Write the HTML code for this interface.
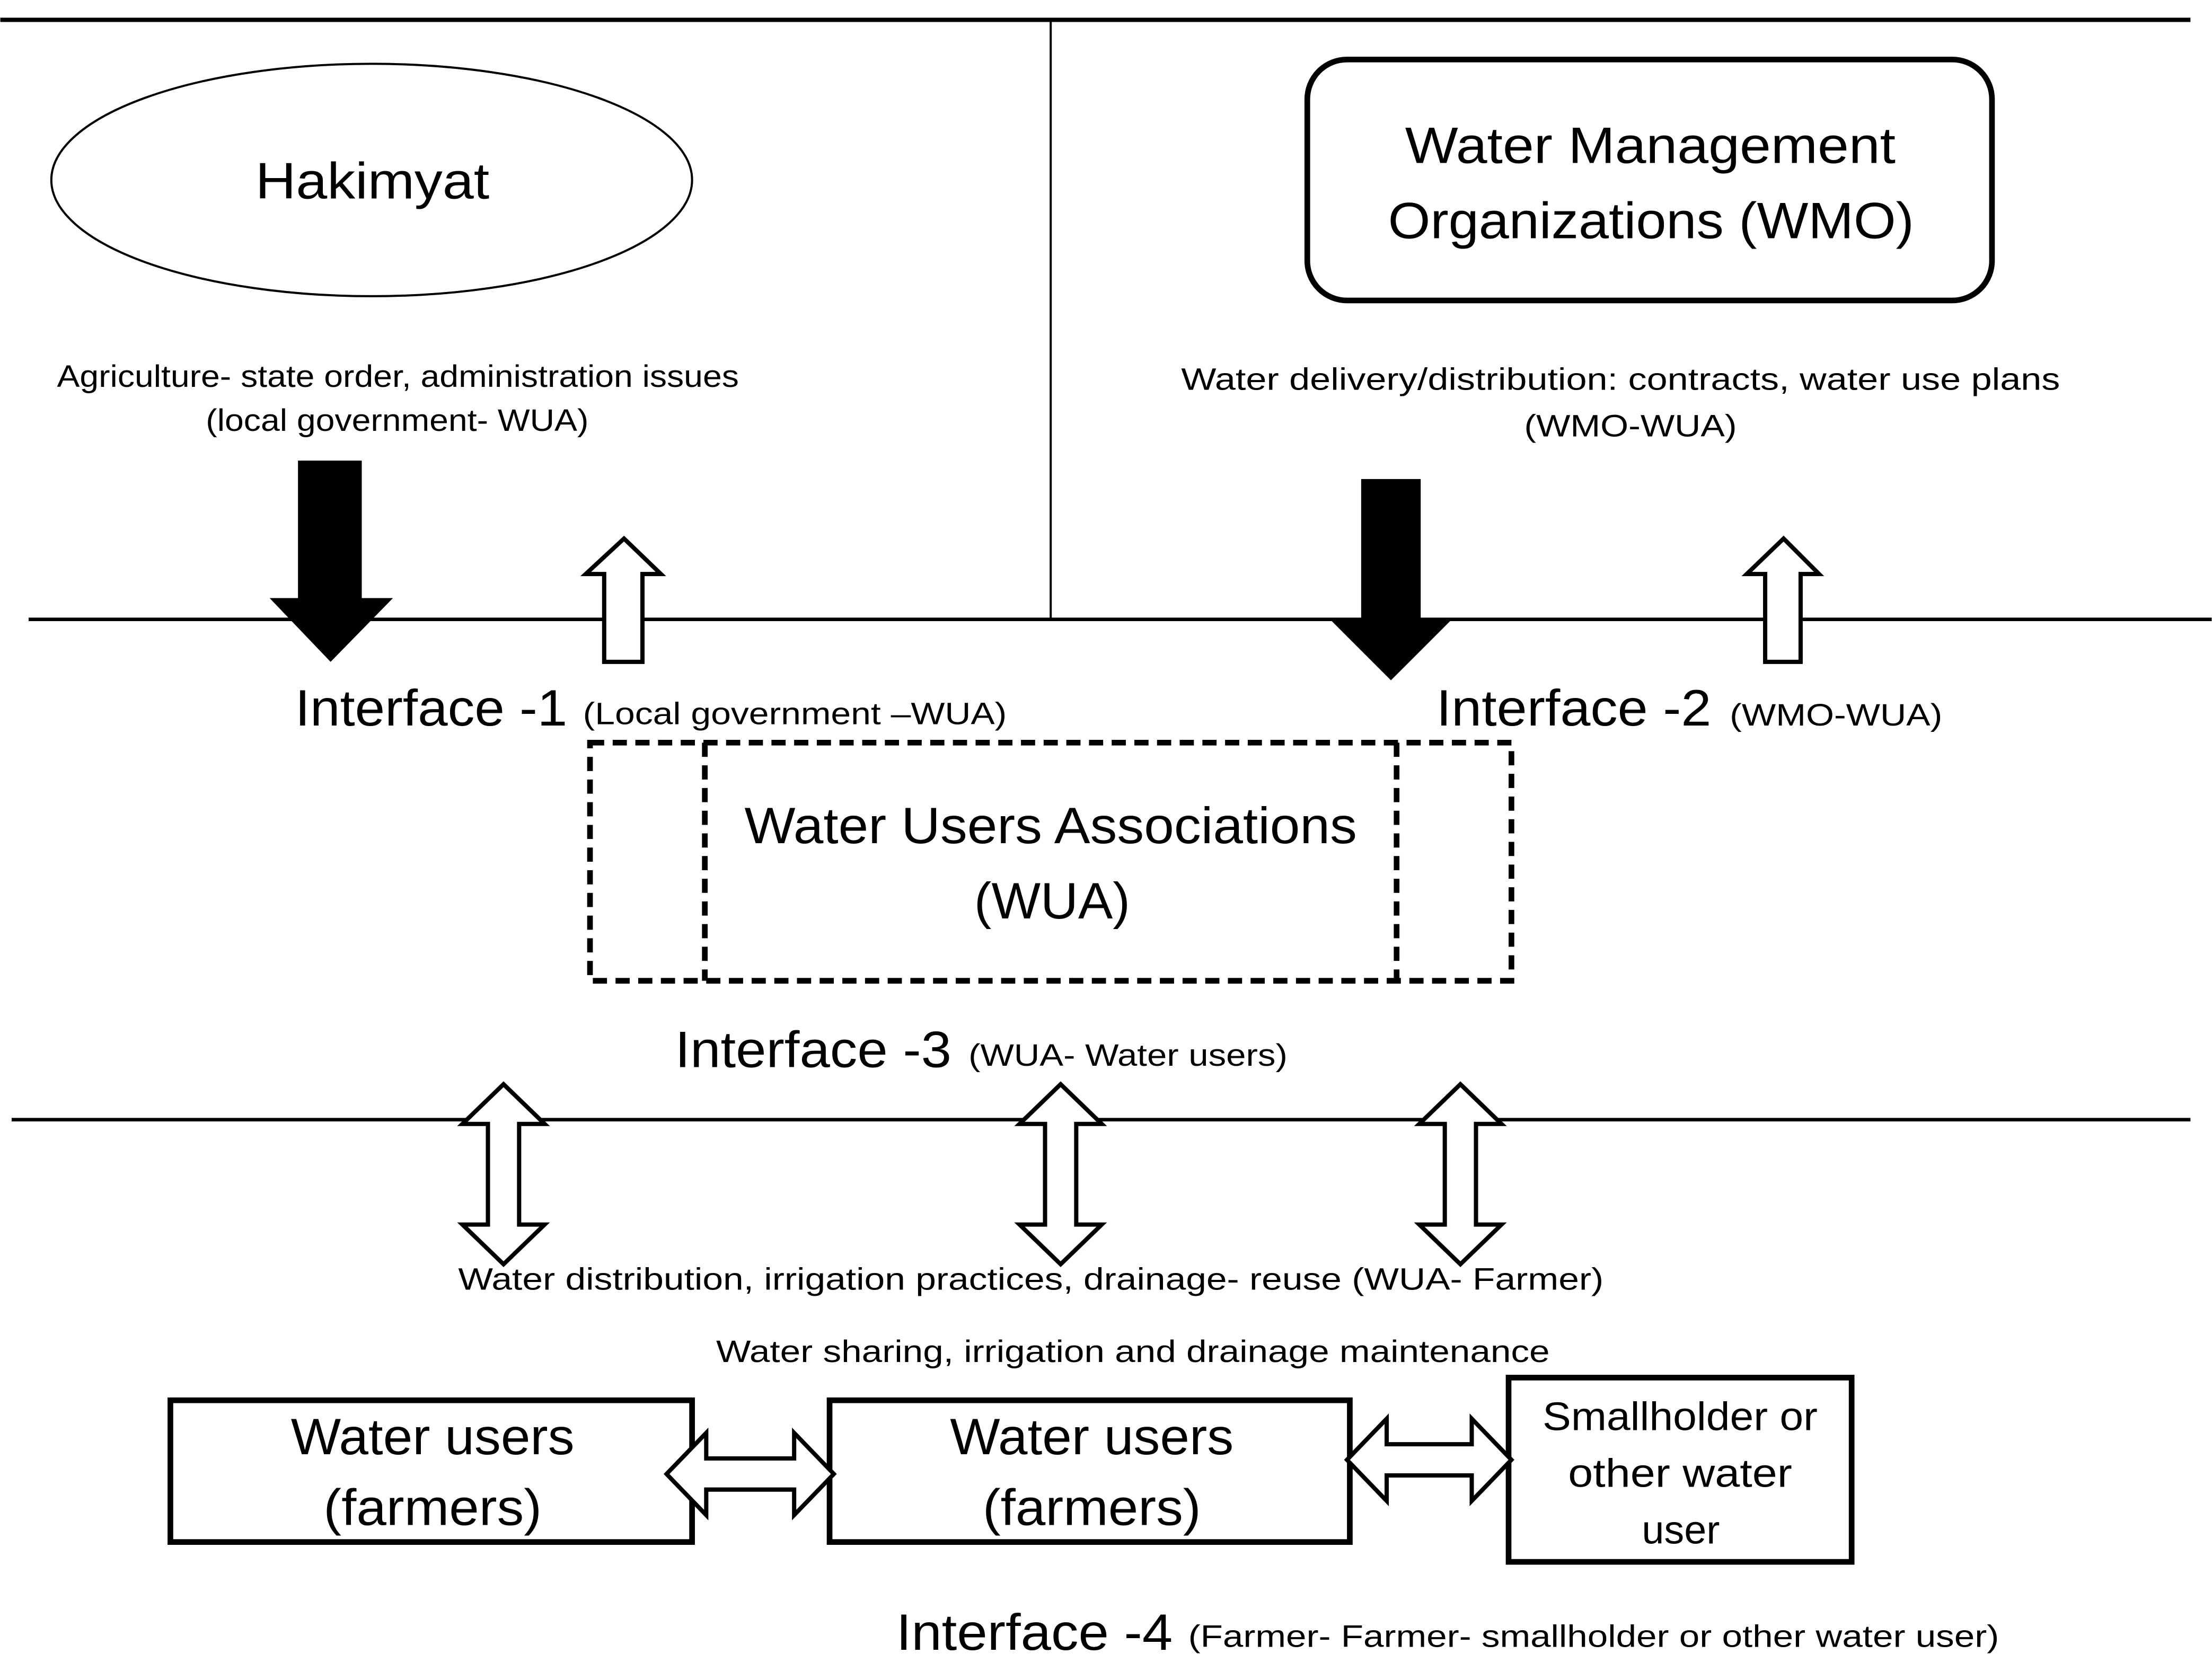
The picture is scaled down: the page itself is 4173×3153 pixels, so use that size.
<!DOCTYPE html>
<html><head><meta charset="utf-8"><style>
html,body{margin:0;padding:0;background:#fff;}
svg{display:block;}
text{font-family:"Liberation Sans",sans-serif;fill:#000;}
</style></head><body>
<svg width="4173" height="3153" viewBox="0 0 1560 1179" xmlns="http://www.w3.org/2000/svg">
<g stroke="#000" fill="none">
<line x1="0" y1="14" x2="1545" y2="14" stroke-width="3"/>
<line x1="741" y1="14" x2="741" y2="437" stroke-width="1.5"/>
<line x1="20" y1="437" x2="1560" y2="437" stroke-width="2.5"/>
<line x1="8" y1="790" x2="1545" y2="790" stroke-width="2.5"/>
<ellipse cx="262" cy="127" rx="226" ry="82" stroke-width="1.5"/>
<rect x="922" y="42" width="483" height="170" rx="28" stroke-width="4"/>
<rect x="416" y="524" width="650" height="168" stroke-width="4" stroke-dasharray="10,6"/>
<line x1="497" y1="524" x2="497" y2="692" stroke-width="4" stroke-dasharray="10,6"/>
<line x1="985" y1="524" x2="985" y2="692" stroke-width="4" stroke-dasharray="10,6"/>
<rect x="120" y="988" width="368" height="100" stroke-width="4"/>
<rect x="585" y="988" width="367" height="100" stroke-width="4"/>
<rect x="1064" y="972" width="242" height="130" stroke-width="4"/>
</g>
<!-- black arrows -->
<polygon points="210,325 255,325 255,422 277,422 233,467 190,422 210,422" fill="#000"/>
<polygon points="960,338 1002,338 1002,437 1024,437 981,480 938,437 960,437" fill="#000"/>
<!-- hollow up arrows -->
<g fill="#fff" stroke="#000" stroke-width="3">
<polygon points="426,467 453,467 453,405 466,405 440,380 413,405 426,405"/>
<polygon points="1245,467 1270,467 1270,405 1283,405 1258,380 1232,405 1245,405"/>
<!-- vertical double arrows -->
<polygon points="344,793 344,864 326,864 355,892 384,864 366,864 366,793 384,793 355,765 326,793"/>
<polygon points="737,793 737,864 719,864 748,892 777,864 759,864 759,793 777,793 748,765 719,793"/>
<polygon points="1019,793 1019,864 1001,864 1030,892 1059,864 1041,864 1041,793 1059,793 1030,765 1001,793"/>
<!-- horizontal double arrows -->
<polygon points="498,1029 560,1029 560,1011 588,1040 560,1069 560,1051 498,1051 498,1069 470,1040 498,1011"/>
<polygon points="978,1019 1038,1019 1038,1001 1066,1030 1038,1059 1038,1041 978,1041 978,1059 950,1030 978,1001"/>
</g>
<g font-size="36">
<text x="180" y="140" textLength="165" lengthAdjust="spacingAndGlyphs">Hakimyat</text>
<text x="991" y="115" textLength="346" lengthAdjust="spacingAndGlyphs">Water Management</text>
<text x="979" y="168" textLength="371" lengthAdjust="spacingAndGlyphs">Organizations (WMO)</text>
<text x="208" y="512" textLength="192" lengthAdjust="spacingAndGlyphs">Interface -1</text>
<text x="1013" y="512" textLength="194" lengthAdjust="spacingAndGlyphs">Interface -2</text>
<text x="525" y="595" textLength="432" lengthAdjust="spacingAndGlyphs">Water Users Associations</text>
<text x="687" y="648" textLength="110" lengthAdjust="spacingAndGlyphs">(WUA)</text>
<text x="476" y="753" textLength="195" lengthAdjust="spacingAndGlyphs">Interface -3</text>
<text x="205" y="1026" textLength="200" lengthAdjust="spacingAndGlyphs">Water users</text>
<text x="228" y="1076" textLength="154" lengthAdjust="spacingAndGlyphs">(farmers)</text>
<text x="670" y="1026" textLength="200" lengthAdjust="spacingAndGlyphs">Water users</text>
<text x="693" y="1076" textLength="154" lengthAdjust="spacingAndGlyphs">(farmers)</text>
<text x="632" y="1164" textLength="195" lengthAdjust="spacingAndGlyphs">Interface -4</text>
</g>
<g font-size="28">
<text x="1088" y="1009" textLength="194" lengthAdjust="spacingAndGlyphs">Smallholder or</text>
<text x="1106" y="1049" textLength="158" lengthAdjust="spacingAndGlyphs">other water</text>
<text x="1158" y="1089" textLength="55" lengthAdjust="spacingAndGlyphs">user</text>
</g>
<g font-size="22">
<text x="40" y="273" textLength="481" lengthAdjust="spacingAndGlyphs">Agriculture- state order, administration issues</text>
<text x="145" y="304" textLength="270" lengthAdjust="spacingAndGlyphs">(local government- WUA)</text>
<text x="833" y="275" textLength="620" lengthAdjust="spacingAndGlyphs">Water delivery/distribution: contracts, water use plans</text>
<text x="1075" y="308" textLength="150" lengthAdjust="spacingAndGlyphs">(WMO-WUA)</text>
<text x="411" y="511" textLength="299" lengthAdjust="spacingAndGlyphs">(Local government –WUA)</text>
<text x="1220" y="512" textLength="150" lengthAdjust="spacingAndGlyphs">(WMO-WUA)</text>
<text x="683" y="752" textLength="225" lengthAdjust="spacingAndGlyphs">(WUA- Water users)</text>
<text x="323" y="910" textLength="808" lengthAdjust="spacingAndGlyphs">Water distribution, irrigation practices, drainage- reuse (WUA- Farmer)</text>
<text x="505" y="961" textLength="588" lengthAdjust="spacingAndGlyphs">Water sharing, irrigation and drainage maintenance</text>
<text x="838" y="1162" textLength="572" lengthAdjust="spacingAndGlyphs">(Farmer- Farmer- smallholder or other water user)</text>
</g>
</svg>
</body></html>
